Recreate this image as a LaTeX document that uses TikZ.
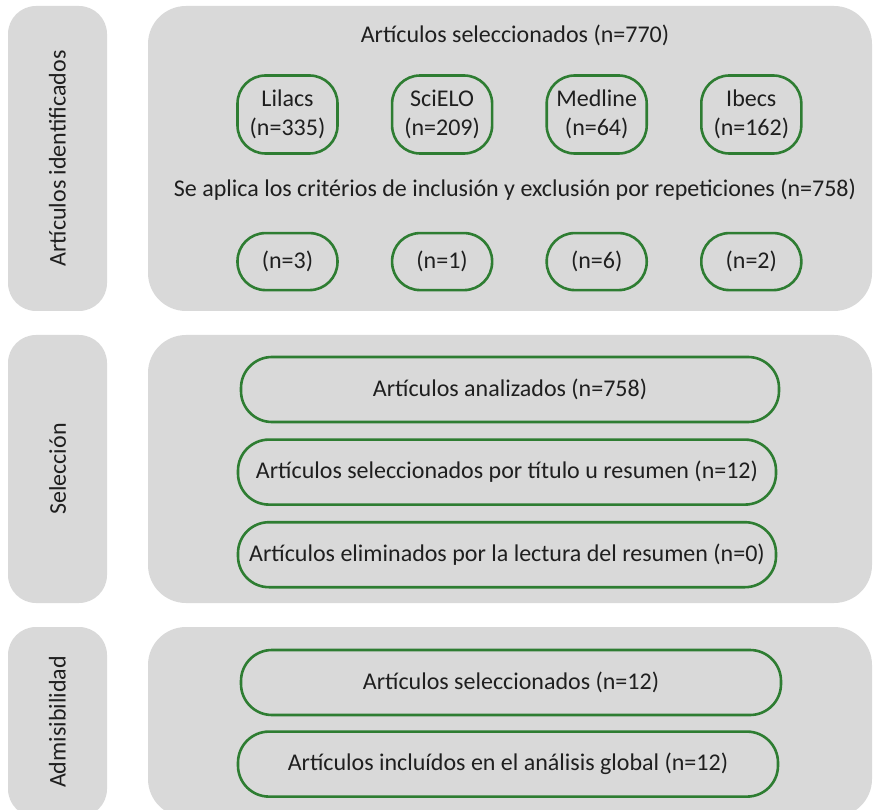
\documentclass[tikz,border=0pt]{standalone}
\usepackage{fontspec}
\setmainfont{Carlito}
\usetikzlibrary{positioning}
\definecolor{boxgray}{HTML}{D9D9D9}
\definecolor{boxgreen}{HTML}{2E7D32}
\definecolor{ink}{HTML}{1F1F1F}
\tikzset{grp/.style={fill=boxgray,rounded corners=38pt,inner sep=0pt}}
\tikzset{side/.style={grp,rounded corners=28pt,minimum width=99pt}}
\tikzset{lab/.style={rotate=90,text=ink,font=\fontsize{24}{29}\selectfont}}
\tikzset{plain/.style={text=ink,font=\fontsize{24}{29}\selectfont}}
\tikzset{db/.style={draw=boxgreen,line width=2.6pt,rounded corners=28pt,minimum width=100pt,
minimum height=78pt,align=center,inner sep=0pt,text=ink,font=\fontsize{24}{29}\selectfont}}
\tikzset{nb/.style={db,minimum height=57pt}}
\tikzset{wide/.style={db,minimum width=538pt,minimum height=65pt,rounded corners=31pt}}

\begin{document}
\begin{tikzpicture}[x=1pt,y=-1pt]
\useasboundingbox (0,0) rectangle (873,810);
\clip (0,0) rectangle (873,810);
% bandas grises
\node [side, minimum height=305pt] (gi) at (57.5,158.5) {};
\node [side, minimum height=268pt] (gs) at (57.5,469) {};
\node [side, minimum height=190pt] (ga) at (57.5,722) {};
\node [grp, minimum width=724pt, minimum height=305pt] (ri) at (510,158.5) {};
\node [grp, minimum width=724pt, minimum height=268pt] (rs) at (510,469) {};
\node [grp, minimum width=724pt, minimum height=190pt] (ra) at (510,722) {};

\node [lab] (li) at (gi.center) {Artículos identificados};
\node [lab] (ls) at (gs.center) {Selección};
\node [lab] (la) at (ga.center) {Admisibilidad};

% identificacion
\node [plain] (tsel) at (515,35) {Artículos seleccionados (n=770)};
\node [db] (lil) at (287.5,114.5) {Lilacs\\(n=335)};
\node [db, right=52pt of lil] (sci) {SciELO\\(n=209)};
\node [db, right=52pt of sci] (med) {Medline\\(n=64)};
\node [db, right=52pt of med] (ibe) {Ibecs\\(n=162)};
\node [plain] (tcrit) at (515,190) {Se aplica los critérios de inclusión y exclusión por repeticiones (n=758)};
\node [nb, below=77pt of lil] (nlil) {(n=3)};
\node [nb, right=52pt of nlil] (nsci) {(n=1)};
\node [nb, right=52pt of nsci] (nmed) {(n=6)};
\node [nb, right=52pt of nmed] (nibe) {(n=2)};

% seleccion
\node [wide] (ana) at (510,389.5) {Artículos analizados (n=758)};
\node [wide, below=15pt of ana.south west, anchor=north west, xshift=-3pt] (tit) {Artículos seleccionados por título u resumen (n=12)};
\node [wide, below=15pt of tit] (eli) {Artículos eliminados por la lectura del resumen (n=0)};

% admisibilidad
\node [wide, minimum width=540pt] (asel) at (511,682.5) {Artículos seleccionados (n=12)};
\node [wide, minimum width=540pt, below=14pt of asel.south west, anchor=north west, xshift=-3pt] (ainc) {Artículos incluídos en el análisis global (n=12)};
\end{tikzpicture}
\end{document}
